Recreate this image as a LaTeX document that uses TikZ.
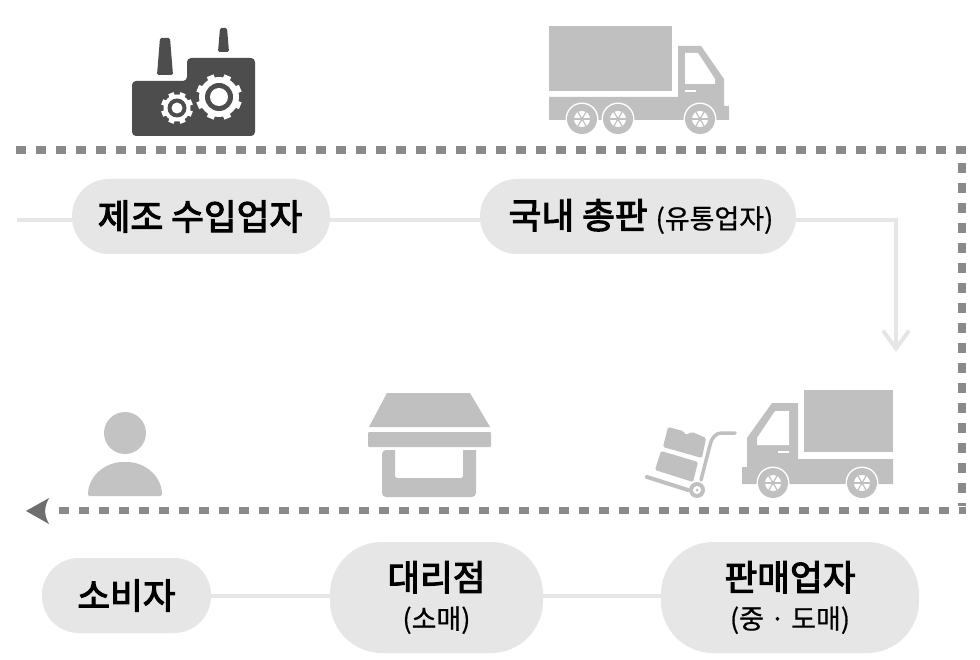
\documentclass[tikz,border=0pt]{standalone}
\usepackage{fontspec}
\setmainfont{Noto Sans CJK KR}
\newfontfamily\semi[FakeBold=3]{Noto Sans CJK KR}
\newfontfamily\medi[FakeBold=0.6]{Noto Sans CJK KR}
\usetikzlibrary{arrows.meta}
\definecolor{pillc}{HTML}{E6E6E6}
\definecolor{dotc}{HTML}{8A8A8A}
\definecolor{iconc}{HTML}{C0C0C0}
\definecolor{darkc}{HTML}{4D4D4D}
\newcommand{\bigt}{\fontsize{35.6}{40}\selectfont\semi}
\newcommand{\subt}{\fontsize{27}{32}\selectfont\medi}
\tikzset{
  pill/.style={fill=pillc,inner sep=0pt,align=center,text=black},
  link/.style={draw=pillc,line width=4pt},
  dotted line/.style={draw=dotc,line width=7.5pt,dash pattern=on 10pt off 10pt},
  icon/.style={fill=iconc,draw=none},
}
\newcommand{\wheelat}[2]{%
  \fill[white] (#1,#2) circle (16.5);
  \fill[iconc] (#1,#2) circle (15);
  \fill[white] (#1,#2) circle (8);
  \foreach \a in {0,60,120}{\draw[iconc,line width=1.2pt] ({#1+8*cos(\a)},{#2+8*sin(\a)}) -- ({#1-8*cos(\a)},{#2-8*sin(\a)});}
  \fill[iconc] (#1,#2) circle (2);
}
\newcommand{\gearat}[6]{% x y outer body ring hole
  \foreach \a in {0,45,...,315}{\fill[white,rotate around={\a+22.5:(#1,#2)}] ({#1-#6},{#2-#3}) rectangle ({#1+#6},{#2});}
  \fill[white] (#1,#2) circle (#4);
  \fill[darkc] (#1,#2) circle (#5);
}
\begin{document}
\begin{tikzpicture}[x=1pt,y=-1pt]
\useasboundingbox[fill=white] (0,0) rectangle (980,660);
% coordinates of free ends
\coordinate (tl) at (16,150);
\coordinate (tr) at (966,150);
\coordinate (rt) at (962,163);
\coordinate (rb) at (962,506);
\coordinate (bl) at (59,510.5);
\coordinate (br) at (966,510.5);
\coordinate (lin) at (17,220);
\coordinate (bend) at (896,220);
\coordinate (tip) at (896,352);
% nodes
\node[pill,minimum width=258pt,minimum height=75pt,rounded corners=37pt] (maker) at (201,216.5) {\hspace{-2pt}\raisebox{1.5pt}{\bigt 제조 수입업자}};
\node[pill,minimum width=316pt,minimum height=75pt,rounded corners=37pt] (dist) at (638,216.5) {\hspace{6pt}\raisebox{1.5pt}{\bigt 국내 총판}\hspace{8pt}\raisebox{1.5pt}{\subt (유통업자)}};
\node[pill,minimum width=169pt,minimum height=75pt,rounded corners=37pt] (cons) at (126.5,595.5) {\raisebox{1.5pt}{\bigt 소비자}};
\node[pill,minimum width=213pt,minimum height=111pt,rounded corners=52pt] (agent) at (436.5,597.5) {{\bigt 대리점}\\[12pt]{\subt (소매)}};
\node[pill,minimum width=258pt,minimum height=111pt,rounded corners=52pt] (seller) at (790,597.5) {{\bigt 판매업자}\\[12pt]{\subt (중 · 도매)}};
% connectors
\draw[link] (lin) -- (maker.west |- lin);
\draw[link] (maker.east |- lin) -- (dist.west |- lin);
\draw[link,-{Straight Barb[length=18pt,width=26pt,line width=4pt]}] (dist.east |- lin) -- (bend) -- (tip);
\draw[link] (cons.east) -- (agent.west |- cons.east);
\draw[link] (agent.east |- cons.east) -- (seller.west |- cons.east);
% dotted route
\draw[dotted line] (tl) -- (tr);
\draw[dotted line] (rt) -- (rb);
\draw[dotted line] (bl) -- (br);
\fill[black!57] (26,511) -- (49,498) .. controls (46,504) and (45,507) .. (45,511) .. controls (45,515) and (46,518) .. (49,524) -- cycle;
% factory
\fill[darkc,rounded corners=1.5pt] (157,75) -- (160,38) -- (170,38) -- (173,75) -- cycle;
\fill[darkc,rounded corners=1.5pt] (218,52) -- (220,28) -- (227,28) -- (229,52) -- cycle;
\fill[darkc,rounded corners=4pt] (132,136) -- (132,81) -- (187,81) -- (187,58) -- (255,58) -- (255,136) -- cycle;
\gearat{219}{97}{23}{20}{14}{3.6}
\fill[white] (219,97) circle (9);
\gearat{177}{108}{16}{13.5}{9.5}{2.8}
\fill[white] (177,108) circle (5.5);
% truck 1
\fill[icon] (549,26) rectangle (672,91);
\fill[icon] (549,97) -- (678,97) -- (678,46) -- (701,46) -- (724,79) -- (724,106) -- (729,106) -- (729,120) -- (549,120) -- cycle;
\fill[white] (685,53) -- (698,53) -- (715,79) -- (715,84) -- (685,84) -- cycle;
\fill[white] (685,90.5) rectangle (696,92.5);
\wheelat{582}{119}
\wheelat{618}{119}
\wheelat{700}{119}
% truck 2
\fill[icon] (804,390) rectangle (893,452);
\fill[icon] (893,459) -- (798,459) -- (798,403) -- (772,403) -- (747,438) -- (747,467) -- (742,467) -- (742,484) -- (893,484) -- cycle;
\fill[white] (789,411) -- (775,411) -- (757,438) -- (757,445) -- (789,445) -- cycle;
\fill[white] (778,451) rectangle (789,453);
\wheelat{773}{483}
\wheelat{862}{483}
% trolley
\fill[icon,rounded corners=1.5pt] (668,427) -- (683,431) -- (686,435) -- (692,432) -- (706,438) -- (702,458) -- (663,447) -- cycle;
\fill[icon,rounded corners=1.5pt] (661,451) -- (698,462) -- (693,482) -- (655,470) -- cycle;
\draw[iconc,line width=3.5pt,line cap=round] (701,480) -- (710,445) .. controls (712,437) and (716,433) .. (722,433) -- (735,433);
\draw[iconc,line width=4pt,line cap=round] (647,477) -- (688,490);
\fill[iconc] (697,490) circle (8);
\fill[white] (697,490) circle (4);
\fill[iconc] (697,490) circle (1.5);
% person
\fill[iconc!95!white] (125,433) circle (21);
\fill[iconc!95!white,rounded corners=1.5pt] (88,496) .. controls (88,477) and (104,462) .. (125,462) .. controls (146,462) and (162,477) .. (162,496) -- cycle;
% store
\fill[icon] (387,393) -- (470,393) -- (490,427) -- (369,427) -- cycle;
\fill[icon,rounded corners=1pt] (368,432) rectangle (491,447);
\fill[icon,even odd rule] (382,450) -- (395,450) -- (395,475) [rounded corners=2pt] -- (395,478) -- (463,478) [sharp corners] -- (463,450) -- (476,450) [rounded corners=4pt] -- (476,497) -- (382,497) -- cycle;
\end{tikzpicture}
\end{document}
